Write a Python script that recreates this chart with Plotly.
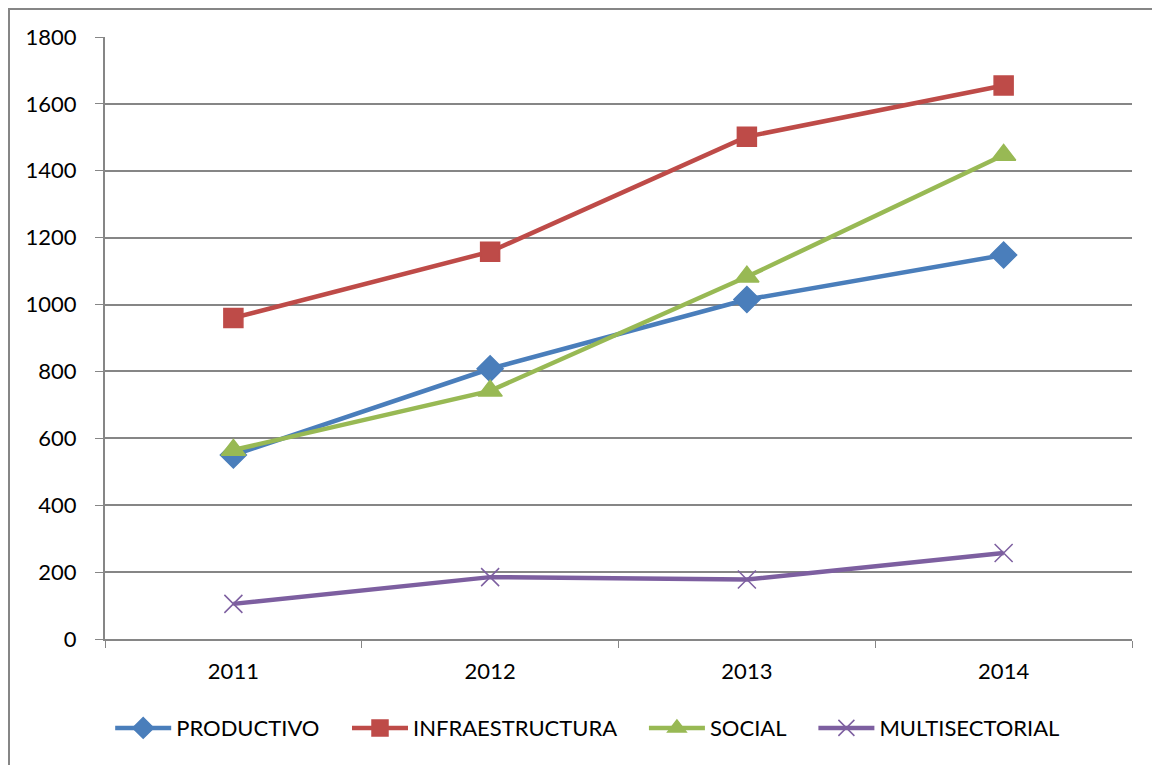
import plotly.graph_objects as go

years = ["2011", "2012", "2013", "2014"]
productivo = [550, 808, 1015, 1148]
infraestructura = [960, 1158, 1502, 1655]
social = [565, 742, 1083, 1447]
multisectorial = [105, 185, 178, 257]

series = [
    ("PRODUCTIVO", productivo, "#4A7EBB", "diamond", 20),
    ("INFRAESTRUCTURA", infraestructura, "#BE4B48", "square", 19),
    ("SOCIAL", social, "#98B954", "triangle-up", 21),
    ("MULTISECTORIAL", multisectorial, "#7D5FA0", "x-thin", 18),
]

PAD = "\u00a0" * 4

fig = go.Figure()
for i, (name, vals, color, sym, size) in enumerate(series):
    fig.add_trace(go.Scatter(
        x=years, y=vals, name=name + (PAD if i < len(series) - 1 else ""),
        mode="lines+markers",
        line=dict(color=color, width=4.5),
        marker=dict(symbol=sym, size=size, color=color,
                    line=dict(color=color, width=1.5)),
    ))

# page body has an 8px margin, so the figure is drawn from (8, 8)
OFF = 8
W, H = 1160 - OFF, 765 - OFF
L, R, T, B = 105 - OFF, 28, 37 - OFF, 126
pw, ph = W - L - R, H - T - B

fig.update_layout(
    width=W, height=H,
    margin=dict(l=L, r=R, t=T, b=B),
    paper_bgcolor="white", plot_bgcolor="white",
    font=dict(family="Lato, Liberation Sans, sans-serif", size=22, color="black"),
    showlegend=True,
    legend=dict(orientation="h", x=0.470, xanchor="center", y=-0.148, yanchor="middle",
                font=dict(size=22), tracegroupgap=0, itemwidth=56),
    xaxis=dict(type="category", tickson="boundaries", ticks="outside", ticklen=7,
               tickcolor="#868686", showline=True, linecolor="#868686", linewidth=2,
               showgrid=False, zeroline=False, range=[-0.5, 3.5],
               ticklabelstandoff=12),
    yaxis=dict(range=[0, 1800], dtick=200, ticks="outside", ticklen=8,
               tickcolor="#868686", showline=True, linecolor="#868686", linewidth=2,
               showgrid=True, gridcolor="#868686", gridwidth=2, zeroline=False,
               ticklabelstandoff=14),
    shapes=[dict(type="rect", xref="paper", yref="paper",
                 x0=(1 - L) / pw, x1=(W + 5 - L) / pw,
                 y0=-(H + 5 - (H - B)) / ph, y1=(H - B - 1) / ph,
                 line=dict(color="#868686", width=2), fillcolor="rgba(0,0,0,0)",
                 layer="below")],
)

fig.write_html("out.html")
